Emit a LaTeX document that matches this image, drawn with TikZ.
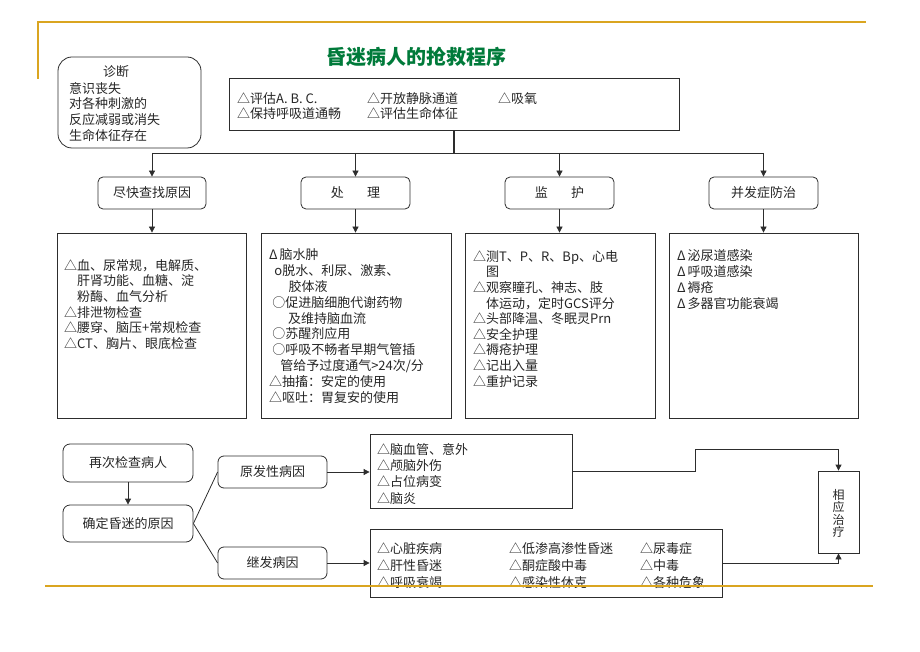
\documentclass[tikz,border=0pt]{standalone}
\usepackage{fontspec}
\setmainfont{Noto Sans CJK SC}
\usetikzlibrary{arrows.meta}
\definecolor{gold}{RGB}{218,165,32}
\definecolor{ttl}{RGB}{0,122,58}
\definecolor{ln}{RGB}{45,45,45}
\newcommand{\Lz}{\rule{0pt}{12pt}}
\newcommand{\Dt}{Δ\hspace{0.15em}}
\begin{document}
\begin{tikzpicture}[x=1pt,y=-1pt,
  box/.style={draw=ln, line width=0.8pt, inner sep=0pt},
  rbox/.style={box, rounded corners=5pt, font=\fontsize{13}{13}\selectfont, text=black!85},
  txt/.style={anchor=north west, inner sep=0pt, align=left, text=black!85},
  conn/.style={draw=ln, line width=0.8pt},
  arr/.style={conn, -{Triangle[length=6pt,width=6pt]}}]
\useasboundingbox (0,0) rectangle (920,652);
% title
\node[font=\fontsize{20}{20}\selectfont\bfseries, text=ttl] (title) at (416,57) {昏迷病人的抢救程序};
% diagnosis
\node[box, rounded corners=14pt, minimum width=143pt, minimum height=91pt] (diag) at (129.5,102.5) {};
\node[font=\fontsize{13}{13}\selectfont, text=black!85] (diagt) at (116,72) {诊断};
\node[txt, font=\fontsize{13}{15.7}\selectfont] (diagl) at (69,80.9) {\Lz 意识丧失\\对各种刺激的\\反应减弱或消失\\生命体征存在};
% top box
\node[box, line width=1pt, minimum width=450pt, minimum height=52pt] (top) at (454,105) {};
\node[txt, font=\fontsize{13}{15}\selectfont] (t1) at (237,90.9) {\Lz△评估A. B. C.\\△保持呼吸道通畅};
\node[txt, font=\fontsize{13}{15}\selectfont] (t2) at (367,90.9) {\Lz△开放静脉通道\\△评估生命体征};
\node[txt, font=\fontsize{13}{15}\selectfont] (t3) at (498,90.9) {\Lz△吸氧};
% headers
\node[rbox, minimum width=108pt, minimum height=32pt] (h1) at (152,193) {尽快查找原因};
\node[rbox, minimum width=109pt, minimum height=32pt] (h2) at (355.5,193) {处\hspace{1.8em}理};
\node[rbox, minimum width=109pt, minimum height=32pt] (h3) at (559.5,193) {监\hspace{1.8em}护};
\node[rbox, minimum width=109pt, minimum height=32pt] (h4) at (763.5,193) {并发症防治};
% trunk
\coordinate (j) at (454,153);
\draw[conn, line width=1.6pt] (top.south -| j) -- (j);
\draw[conn] (h1.north |- j) -- (h4.north |- j);
\foreach \h in {h1,h2,h3,h4} \draw[arr] (\h.north |- j) -- (\h.north);
% content boxes
\node[box, minimum width=189pt, minimum height=185pt] (c1) at (151.5,325.5) {};
\node[box, minimum width=190pt, minimum height=185pt] (c2) at (356,325.5) {};
\node[box, minimum width=190pt, minimum height=185pt] (c3) at (560,325.5) {};
\node[box, minimum width=189pt, minimum height=185pt] (c4) at (763.5,325.5) {};
\draw[arr] (h1.south) -- (h1.south |- c1.north);
\draw[arr] (h2.south) -- (h2.south |- c2.north);
\draw[arr] (h3.south) -- (h3.south |- c3.north);
\draw[arr] (h4.south) -- (h4.south |- c4.north);
\node[txt, font=\fontsize{13}{15.7}\selectfont] (c1t) at (64,257.9) {\Lz△血、尿常规，电解质、\\\hspace{1em}肝肾功能、血糖、淀\\\hspace{1em}粉酶、血气分析\\△排泄物检查\\△腰穿、脑压+常规检查\\△CT、胸片、眼底检查};
\node[txt, font=\fontsize{13}{15.9}\selectfont] (c2t) at (269,247.2) {\Lz\Dt 脑水肿\\\hspace{0.4em}o脱水、利尿、激素、\\\hspace{1.5em}胶体液\\\hspace{0.25em}○促进脑细胞代谢药物\\\hspace{1.45em}及维持脑血流\\\hspace{0.25em}○苏醒剂应用\\\hspace{0.25em}○呼吸不畅者早期气管插\\\hspace{0.85em}管给予过度通气>24次/分\\△抽搐：安定的使用\\△呕吐：胃复安的使用};
\node[txt, font=\fontsize{13}{15.6}\selectfont] (c3t) at (473,249) {\Lz△测T、P、R、Bp、心电\\\hspace{1em}图\\△观察瞳孔、神志、肢\\\hspace{1em}体运动，定时GCS评分\\△头部降温、冬眠灵Prn\\△安全护理\\△褥疮护理\\△记出入量\\△重护记录};
\node[txt, font=\fontsize{13}{16}\selectfont] (c4t) at (677,248.6) {\Lz\Dt 泌尿道感染\\\Dt 呼吸道感染\\\Dt 褥疮\\\Dt 多器官功能衰竭};
% bottom section
\node[rbox, rounded corners=7pt, minimum width=130pt, minimum height=38pt] (r1) at (128,463) {再次检查病人};
\node[rbox, rounded corners=7pt, minimum width=130pt, minimum height=37pt] (r2) at (128,523.5) {确定昏迷的原因};
\node[rbox, rounded corners=6pt, minimum width=109pt, minimum height=32pt] (p1) at (272.5,472) {原发性病因};
\node[rbox, rounded corners=6pt, minimum width=109pt, minimum height=32pt] (p2) at (272.5,563) {继发病因};
\node[box, minimum width=202pt, minimum height=74pt] (bA) at (471,471) {};
\node[box, minimum width=352pt, minimum height=68pt] (bB) at (546,563) {};
\node[box, minimum width=41pt, minimum height=82pt] (tr) at (838.5,512) {};
\node[font=\fontsize{12}{12.4}\selectfont, align=center, inner sep=0pt, text=black!85] (trt) at (838.5,513.5) {相\\应\\治\\疗};
\node[txt, font=\fontsize{13}{16.4}\selectfont] (bAt) at (377,441.9) {\Lz△脑血管、意外\\△颅脑外伤\\△占位病变\\△脑炎};
\node[txt, font=\fontsize{13}{17}\selectfont] (bB1) at (377,540.9) {\Lz△心脏疾病\\△肝性昏迷\\△呼吸衰竭};
\node[txt, font=\fontsize{13}{17}\selectfont] (bB2) at (509,540.9) {\Lz△低渗高渗性昏迷\\△酮症酸中毒\\△感染性休克};
\node[txt, font=\fontsize{13}{17}\selectfont] (bB3) at (640,540.9) {\Lz△尿毒症\\△中毒\\△各种危象};
\draw[arr] (r1.south) -- (r2.north);
\draw[conn] (r2.east) -- (p1.west);
\draw[conn] (r2.east) -- (p2.west);
\draw[arr] (p1.east) -- (p1.east -| bA.west);
\draw[arr] (p2.east) -- (p2.east -| bB.west);
\coordinate (k1) at (695,449);
\draw[arr] (bA.east) -| (k1) -| (tr.north);
\draw[arr] (bB.east) -| (tr.south);
% gold frame lines
\draw[gold, line width=1.5pt] (38,79) -- (38,22) -- (866,22);
\draw[gold, line width=1.5pt] (45,586) -- (873,586);
\end{tikzpicture}
\end{document}
